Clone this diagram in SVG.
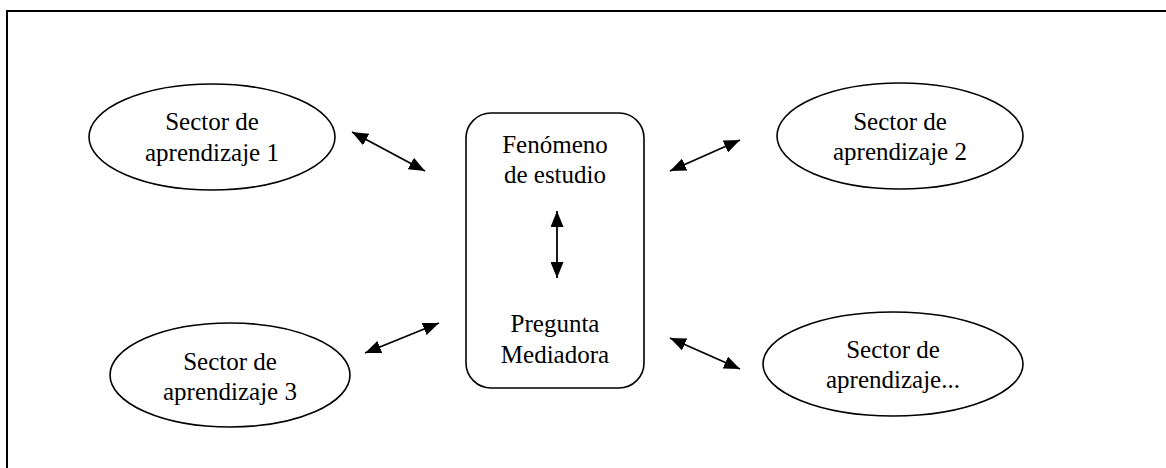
<svg xmlns="http://www.w3.org/2000/svg" width="1166" height="468" viewBox="0 0 1166 468">
<style>
.frame{fill:none;stroke:#000;stroke-width:2}
.node{fill:#fff;stroke:#000;stroke-width:1.6}
.lbl{font-family:"Liberation Serif","Times New Roman",serif;font-size:25px;fill:#000;text-anchor:middle}
.conn{stroke:#000;stroke-width:1.8;fill:none;marker-start:url(#ah);marker-end:url(#ah)}
</style>
<defs>
<marker id="ah" viewBox="0 0 10 10" refX="10" refY="5" markerWidth="16" markerHeight="13" markerUnits="userSpaceOnUse" orient="auto-start-reverse" preserveAspectRatio="none">
<path d="M0,0 L10,5 L0,10 z" fill="#000"/>
</marker>
</defs>
<rect width="1166" height="468" fill="#fff"/>
<path class="frame" d="M7,468 V11 H1166"/>
<g id="sector1">
<ellipse class="node" cx="212" cy="137" rx="123" ry="53"/>
<text class="lbl" x="212" y="130">Sector de</text>
<text class="lbl" x="212" y="161">aprendizaje 1</text>
</g>
<g id="sector2">
<ellipse class="node" cx="900" cy="136" rx="123" ry="53"/>
<text class="lbl" x="900" y="130">Sector de</text>
<text class="lbl" x="900" y="160">aprendizaje 2</text>
</g>
<g id="sector3">
<ellipse class="node" cx="230" cy="375" rx="120" ry="52"/>
<text class="lbl" x="230" y="370">Sector de</text>
<text class="lbl" x="230" y="400">aprendizaje 3</text>
</g>
<g id="sector4">
<ellipse class="node" cx="893" cy="364" rx="130" ry="52"/>
<text class="lbl" x="893" y="358">Sector de</text>
<text class="lbl" x="893" y="388">aprendizaje...</text>
</g>
<g id="centro">
<rect class="node" x="466" y="113" width="178" height="275" rx="25" ry="25"/>
<text class="lbl" x="555" y="153">Fenómeno</text>
<text class="lbl" x="555" y="183">de estudio</text>
<text class="lbl" x="555" y="332">Pregunta</text>
<text class="lbl" x="555" y="363">Mediadora</text>
</g>
<g id="connectors">
<line class="conn" x1="352" y1="132" x2="425" y2="171"/>
<line class="conn" x1="670" y1="171" x2="740" y2="140"/>
<line class="conn" x1="365" y1="353" x2="439" y2="323"/>
<line class="conn" x1="670" y1="338" x2="740" y2="369"/>
<line class="conn" x1="557" y1="211" x2="557" y2="278"/>
</g>
</svg>
